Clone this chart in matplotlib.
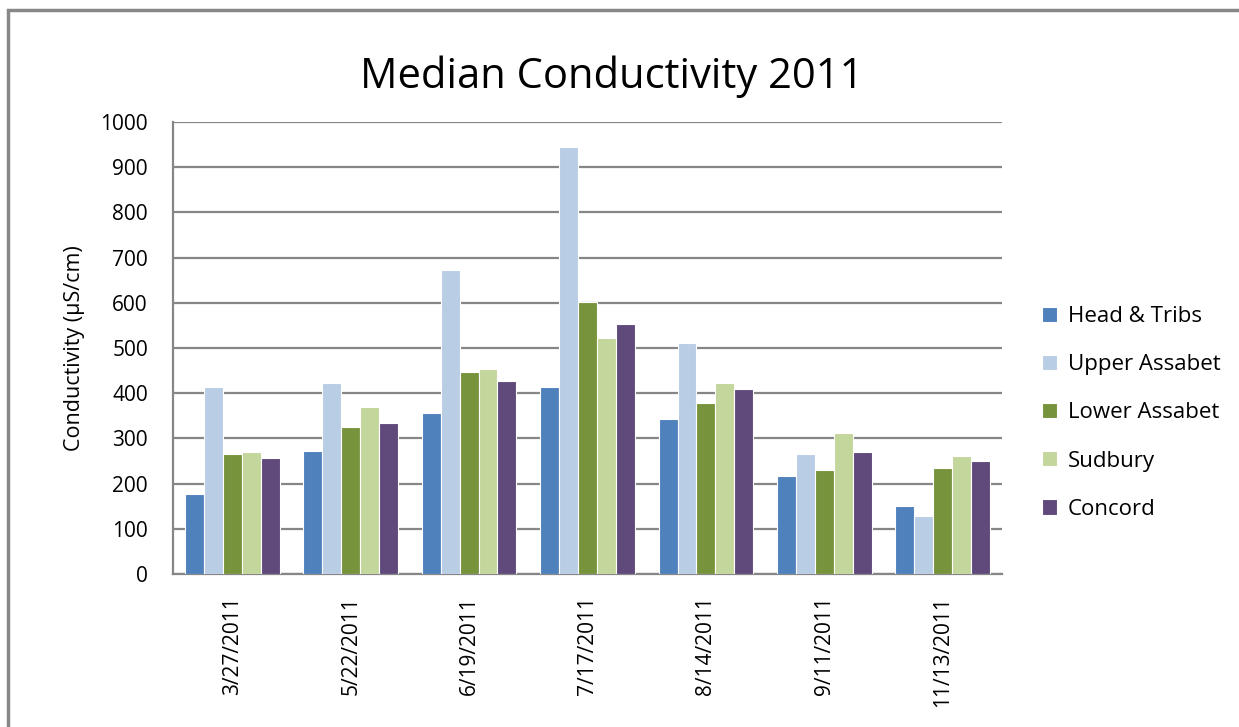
import numpy as np
import matplotlib
matplotlib.use("Agg")
from matplotlib import pyplot as plt
from matplotlib.patches import Rectangle

# Data
dates = ["3/27/2011", "5/22/2011", "6/19/2011", "7/17/2011",
         "8/14/2011", "9/11/2011", "11/13/2011"]
head_tribs = [177, 273, 357, 413, 343, 217, 150]
upper_assabet = [413, 422, 672, 944, 510, 265, 128]
lower_assabet = [265, 326, 448, 602, 378, 229, 234]
sudbury = [269, 370, 453, 523, 422, 312, 260]
concord = [256, 335, 427, 554, 409, 269, 251]

series = [
    ("Head & Tribs", head_tribs, "#4F81BD"),
    ("Upper Assabet", upper_assabet, "#B9CDE5"),
    ("Lower Assabet", lower_assabet, "#77933C"),
    ("Sudbury", sudbury, "#C3D69B"),
    ("Concord", concord, "#604A7B"),
]

plt.rcParams['font.family'] = ['Open Sans', 'DejaVu Sans']

fig = plt.figure(figsize=(12.39, 7.27), dpi=100)
ax = fig.add_axes([173 / 1239, 1 - 574 / 727, 829 / 1239, 452 / 727])

# outer chart frame (only top/left visible in the crop)
fig.patches.append(Rectangle((8 / 1239, -0.1), 1.2, 1 - 10 / 727 + 0.1,
                             transform=fig.transFigure, fill=False,
                             edgecolor="#888888", linewidth=2.5))

x = np.arange(len(dates))
w = 0.16
for i, (name, vals, color) in enumerate(series):
    ax.bar(x + (i - 2) * w, vals, width=w, color=color, edgecolor="white",
           linewidth=0.8, label=name, zorder=3)

ax.set_xlim(-0.5, len(dates) - 0.5)
ax.set_ylim(0, 1000)
ax.set_yticks(range(0, 1001, 100))
ax.set_xticks(x)
ax.set_xticklabels(dates, rotation=90)
ax.tick_params(axis="both", length=0, labelsize=15)
ax.tick_params(axis="x", pad=16)
ax.tick_params(axis="y", pad=18)
ax.grid(axis="y", color="#868686", linewidth=1.6, zorder=0)
for s in ["top", "right"]:
    ax.spines[s].set_visible(False)
for s in ["left", "bottom"]:
    ax.spines[s].set_color("#868686")
    ax.spines[s].set_linewidth(1.6)

ax.set_ylabel("Conductivity (µS/cm)", fontsize=15.5, labelpad=11)

fig.text(612 / 1239, 1 - 77 / 727, "Median Conductivity 2011", fontsize=30,
         ha="center", va="center")

ax.legend(loc="center left", bbox_to_anchor=(1.037, (574 - 413) / 452),
          frameon=False, fontsize=16, labelspacing=1.22, handlelength=0.68,
          handleheight=0.68, handletextpad=0.5, borderaxespad=0)

fig.savefig("out.png", dpi=100)
